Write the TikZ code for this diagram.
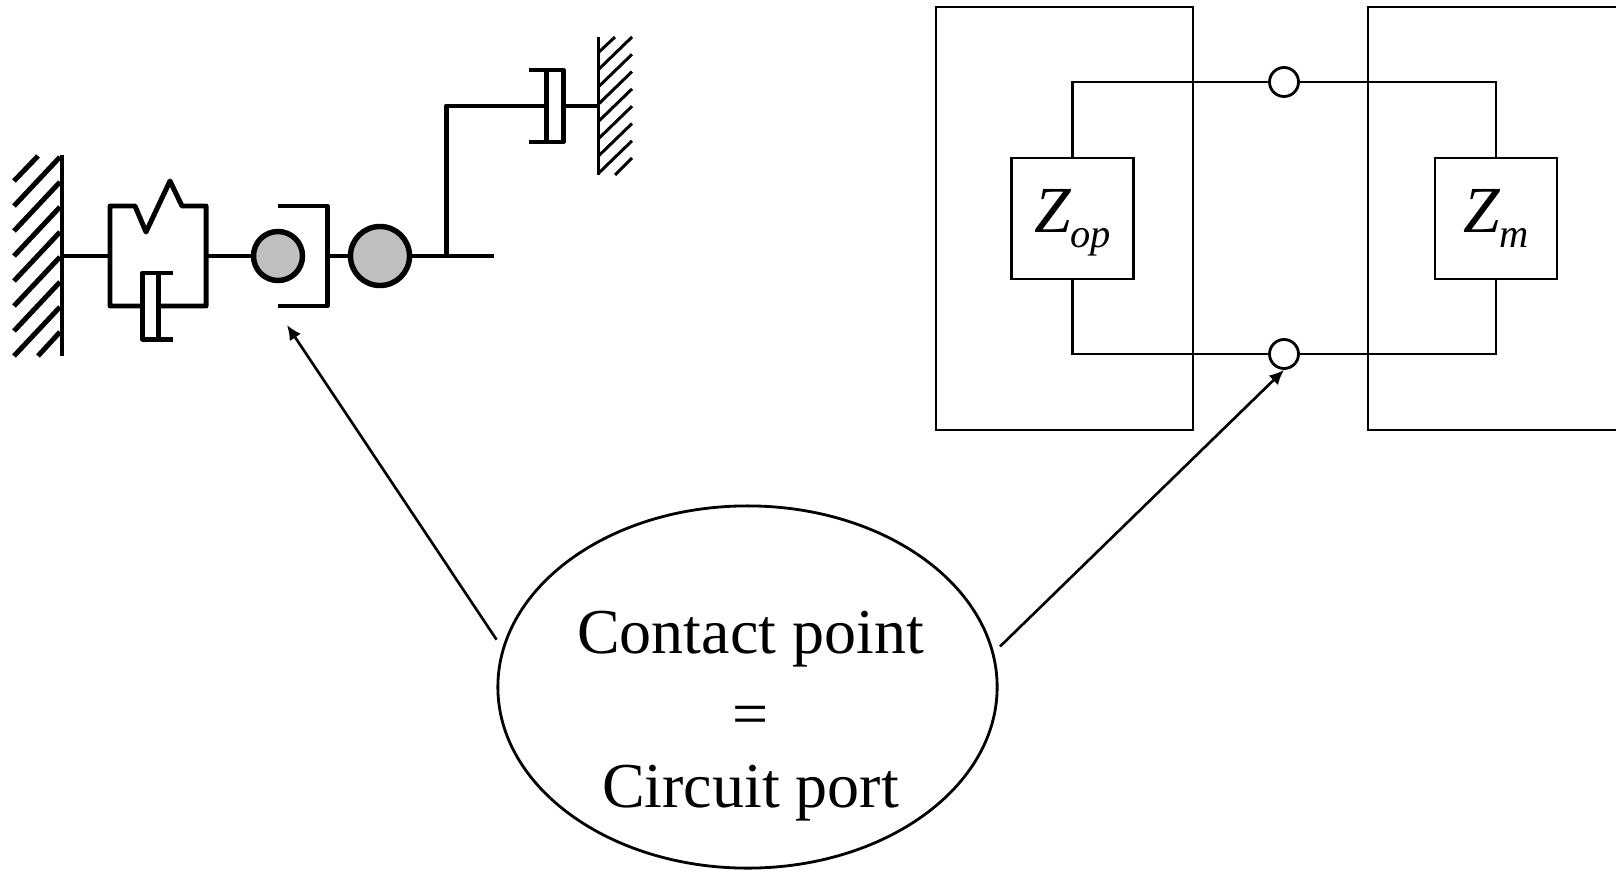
\documentclass[tikz,border=0pt]{standalone}
\usepackage{fontspec}
\setmainfont{Liberation Serif}
\usetikzlibrary{arrows.meta}
\usetikzlibrary{shapes.geometric}

\newcommand{\impedance}[1]{{\itshape\fontsize{18.7}{22}\selectfont Z\raisebox{-4.3pt}{\fontsize{11.5}{12}\selectfont #1}}}

\tikzset{
  mech/.style={black,line width=1.42pt,line join=round},
  hatchthin/.style={black,line width=.85pt},
  wire/.style={black,line width=.8pt},
  ball/.style={circle,draw=black,fill=black!25,line width=1.55pt,inner sep=0pt},
  port/.style={circle,draw=black,fill=white,line width=.8pt,inner sep=0pt,minimum size=.29cm},
  impbox/.style={draw=black,fill=white,line width=.8pt,minimum width=1.22cm,minimum height=1.21cm,inner sep=0pt,text height=7.7pt,text depth=0pt},
  pointer/.style={black,line width=.75pt,-{Latex[length=4.2pt,width=3.8pt]}}
}

\begin{document}
\begin{tikzpicture}[x=.01cm,y=-.01cm]

\useasboundingbox (0,0) rectangle (1616,870);

\coordinate (wallA) at (62,256);
\coordinate (springL) at (110,256);
\coordinate (springR) at (206,256);
\coordinate (cupB) at (327,256);
\coordinate (rodEnd) at (494,256);
\coordinate (rodUp) at (446,256);
\coordinate (rodTop) at (446,106);
\coordinate (dampB) at (546,106);
\coordinate (dampC) at (563,106);
\coordinate (wallB) at (598,106);
\coordinate (cupTip) at (287,325);

\node[ball,minimum size=.49cm] (ballA) at (278,256) {};
\node[ball,minimum size=.59cm] (ballB) at (380,256) {};

\draw[mech] (62,155)--(62,356);
\draw[mech] (38,156)--(14,181);
\foreach \y in {157,182,...,307} {
  \draw[mech] (60,\y)--(14,\y+49);
}
\draw[mech] (60,332)--(38,356);

\draw[mech] (wallA)--(springL);
\draw[mech] (142.5,306)--(110,306)--(110,206)--(135,206)--(146,232)--(170,181)--(182,206)--(206,206)--(206,306)--(158,306);
\draw[mech] (173,273)--(142.5,273)--(142.5,339)--(173,339);
\draw[mech] (158,273)--(158,339);
\draw[mech] (springR)--(ballA);

\draw[mech] (278,206)--(327,206)--(327,306)--(278,306);
\draw[mech] (cupB)--(ballB);
\draw[mech] (ballB)--(rodEnd);
\draw[mech] (rodUp)--(rodTop)--(dampB);

\draw[mech] (529,70)--(563,70)--(563,142)--(529,142);
\draw[mech] (546,70)--(546,142);
\draw[mech] (dampC)--(wallB);

\draw[hatchthin] (598,37)--(598,175);
\draw[hatchthin] (615,37)--(599,52);
\foreach \y in {37,54.3,...,142} {
  \draw[hatchthin] (632,\y)--(599,\y+32);
}
\draw[hatchthin] (632,158)--(615,175);

\draw[wire] (936,7) rectangle (1193,430);
\draw[wire] (1616,7)--(1368,7)--(1368,430)--(1616,430);

\node[impbox] (zop) at (1072.5,218.5) {\impedance{op}};
\node[impbox] (zm) at (1496,218.5) {\impedance{m}};
\node[port] (portT) at (1284,82) {};
\node[port] (portB) at (1284,354) {};

\draw[wire] (zop.north) |- (portT);
\draw[wire] (zop.south) |- (portB);
\draw[wire] (portT) -| (zm.north);
\draw[wire] (portB) -| (zm.south);

\node[ellipse,draw=black,line width=.8pt,minimum width=4.99cm,minimum height=3.62cm,inner sep=0pt] (contact) at (747.5,687) {};
\node[align=center,inner sep=0pt,font=\fontsize{18.2}{21.9}\selectfont] (contactText) at (750.5,716) {Contact point\\[1.4pt]=\\[-1.4pt]Circuit port};

\draw[pointer,shorten <=2.9pt] (contact.171.5) -- (cupTip);
\draw[pointer,shorten <=2.4pt] (contact.8.9) -- (portB.south);

\end{tikzpicture}
\end{document}
